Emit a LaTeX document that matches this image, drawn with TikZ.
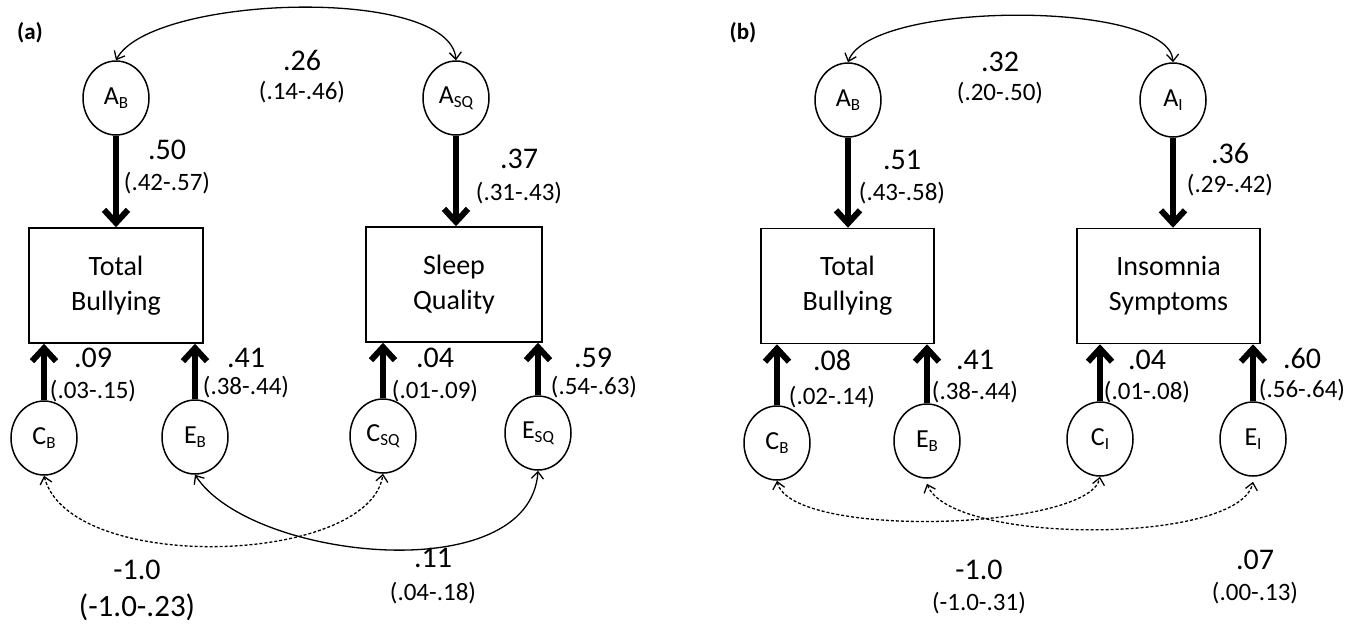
\documentclass[tikz,border=0pt]{standalone}
\usepackage{fontspec}
\setmainfont{Carlito}
\usetikzlibrary{shapes.geometric,arrows.meta}
\newcommand\sbs[1]{\raisebox{-0.35ex}{\fontsize{17}{17}\selectfont #1}}
\tikzset{
  lat/.style={ellipse, draw, line width=1.5pt, minimum width=66pt, minimum height=74pt, inner sep=0pt, font=\fontsize{26}{26}\selectfont},
  obs/.style={draw, line width=1.5pt, minimum height=115pt, align=center, inner sep=0pt, font=\fontsize{28}{35}\selectfont},
  pth/.style={line width=6pt, -{Straight Barb[length=13pt,width=24pt]}},
  cov/.style={line width=1.3pt, {Straight Barb[length=7pt,width=12pt]}-{Straight Barb[length=7pt,width=12pt]}},
  dcov/.style={cov, dash pattern=on 3pt off 2pt},
  coef/.style={font=\fontsize{30}{30}\selectfont, inner sep=0pt},
  bigci/.style={font=\fontsize{31}{31}\selectfont, inner sep=0pt},
  ci/.style={font=\fontsize{25}{25}\selectfont, inner sep=0pt},
  panel/.style={font=\bfseries\fontsize{23}{23}\selectfont, inner sep=0pt}
}
\begin{document}
\begin{tikzpicture}[x=1pt,y=-1pt]
\useasboundingbox (0,0) rectangle (1353,625);
% ---------------- panel (a)
\node[panel] (pa) at (30,33) {(a)};
\node[lat] (ab) at (116,98) {A\sbs{B}};
\node[lat] (asq) at (456,98) {A\sbs{SQ}};
\node[obs, minimum width=174pt] (tb) at (116,285.5) {Total\\Bullying};
\node[obs, minimum width=176pt] (sq) at (454,284.5) {Sleep\\Quality};
\node[lat] (cb) at (44,438) {C\sbs{B}};
\node[lat] (eb) at (195,437) {E\sbs{B}};
\node[lat] (csq) at (383,436) {C\sbs{SQ}};
\node[lat] (esq) at (538,433) {E\sbs{SQ}};

\draw[pth] (ab.south) -- (ab.south |- tb.north);
\draw[pth] (asq.south) -- (asq.south |- sq.north);
\draw[pth] (cb.north) -- (cb.north |- tb.south);
\draw[pth] (eb.north) -- (eb.north |- tb.south);
\draw[pth] (csq.north) -- (csq.north |- sq.south);
\draw[pth] (esq.north) -- (esq.north |- sq.south);

\draw[cov] (ab.north) .. controls (150,-5) and (450,-15) .. (asq.north);
\draw[dcov] (cb.south) .. controls (70,575) and (370,565) .. (csq.south);
\draw[cov] (eb.south) .. controls (250,560) and (530,590) .. (esq.south);

\node[coef] (la1) at (302,60) {.26};
\node[ci] (la1c) at (302,92) {(.14-.46)};
\node[coef] (la2) at (167,150) {.50};
\node[ci] (la2c) at (167,183) {(.42-.57)};
\node[coef] (la3) at (519,159) {.37};
\node[ci] (la3c) at (519,193) {(.31-.43)};
\node[coef] (la4) at (93,358) {.09};
\node[ci] (la4c) at (93,391) {(.03-.15)};
\node[coef] (la5) at (246,358) {.41};
\node[ci] (la5c) at (246,387) {(.38-.44)};
\node[coef] (la6) at (435,358) {.04};
\node[ci] (la6c) at (435,391) {(.01-.09)};
\node[coef] (la7) at (593,358) {.59};
\node[ci] (la7c) at (594,387) {(.54-.63)};
\node[coef] (la8) at (137,570) {-1.0};
\node[bigci] (la8c) at (137,607) {(-1.0-.23)};
\node[coef] (la9) at (433,558) {.11};
\node[ci] (la9c) at (433,593) {(.04-.18)};

% ---------------- panel (b)
\node[panel] (pb) at (743,33) {(b)};
\node[lat] (bab) at (848,100) {A\sbs{B}};
\node[lat] (bai) at (1173,100) {A\sbs{I}};
\node[obs, minimum width=173pt] (btb) at (847.5,286) {Total\\Bullying};
\node[obs, minimum width=183pt] (bis) at (1168.5,286) {Insomnia\\Symptoms};
\node[lat] (bcb) at (777,443) {C\sbs{B}};
\node[lat] (beb) at (927,441) {E\sbs{B}};
\node[lat] (bci) at (1100,439) {C\sbs{I}};
\node[lat] (bei) at (1253,439) {E\sbs{I}};

\draw[pth] (bab.south) -- (bab.south |- btb.north);
\draw[pth] (bai.south) -- (bai.south |- bis.north);
\draw[pth] (bcb.north) -- (bcb.north |- btb.south);
\draw[pth] (beb.north) -- (beb.north |- btb.south);
\draw[pth] (bci.north) -- (bci.north |- bis.south);
\draw[pth] (bei.north) -- (bei.north |- bis.south);

\draw[cov] (bab.north) .. controls (870,0) and (1170,0) .. (bai.north);
\draw[dcov] (bcb.south) .. controls (790,540) and (1090,530) .. (bci.south);
\draw[dcov] ([yshift=-5pt]beb.south) .. controls (950,545) and (1240,545) .. ([yshift=-5pt]bei.south);

\node[coef] (lb1) at (1000,62) {.32};
\node[ci] (lb1c) at (1000,93) {(.20-.50)};
\node[coef] (lb2) at (902,160) {.51};
\node[ci] (lb2c) at (902,193) {(.43-.58)};
\node[coef] (lb3) at (1230,153) {.36};
\node[ci] (lb3c) at (1230,185) {(.29-.42)};
\node[coef] (lb4) at (832,360) {.08};
\node[ci] (lb4c) at (832,397) {(.02-.14)};
\node[coef] (lb5) at (975,360) {.41};
\node[ci] (lb5c) at (975,392) {(.38-.44)};
\node[coef] (lb6) at (1147,360) {.04};
\node[ci] (lb6c) at (1147,392) {(.01-.08)};
\node[coef] (lb7) at (1302,358) {.60};
\node[ci] (lb7c) at (1302,390) {(.56-.64)};
\node[coef] (lb8) at (979,570) {-1.0};
\node[ci] (lb8c) at (979,603) {(-1.0-.31)};
\node[coef] (lb9) at (1255,560) {.07};
\node[ci] (lb9c) at (1255,593) {(.00-.13)};
\end{tikzpicture}
\end{document}
